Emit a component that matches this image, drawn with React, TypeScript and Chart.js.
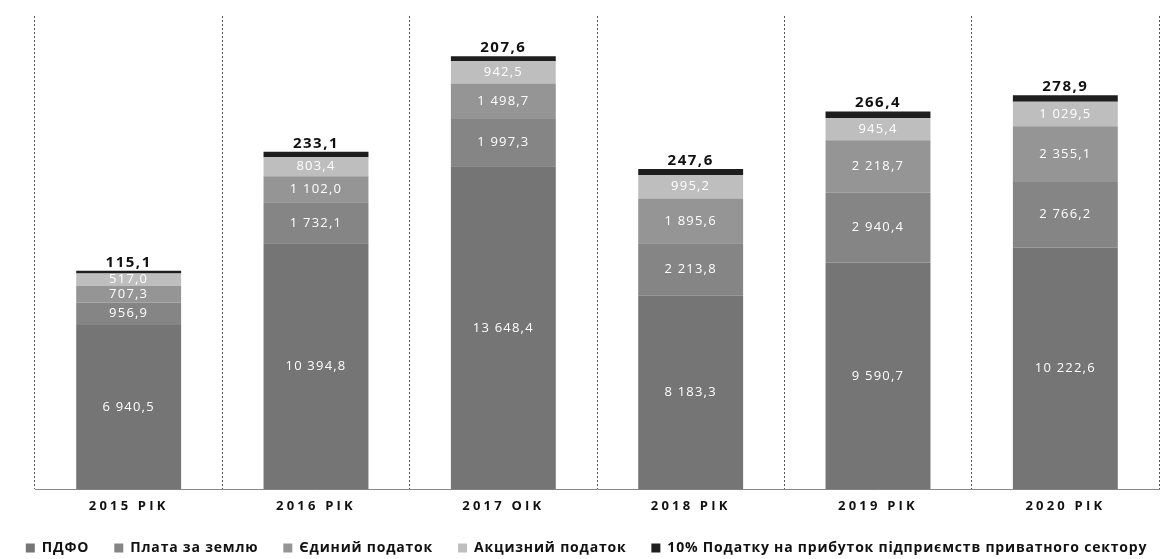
import React, { useEffect, useRef } from "react";
import { Chart, registerables } from "chart.js";

Chart.register(...registerables);

const categories = ["2015 PIK", "2016 PIK", "2017 OIK", "2018 PIK", "2019 PIK", "2020 PIK"];
const seriesNames = [
  "ПДФО",
  "Плата за землю",
  "Єдиний податок",
  "Акцизний податок",
  "10% Податку на прибуток підприємств приватного сектору",
];
const pdfo = [6940.5, 10394.8, 13648.4, 8183.3, 9590.7, 10222.6];
const plataZemlia = [956.9, 1732.1, 1997.3, 2213.8, 2940.4, 2766.2];
const yedynyi = [707.3, 1102.0, 1498.7, 1895.6, 2218.7, 2355.1];
const aktsyz = [517.0, 803.4, 942.5, 995.2, 945.4, 1029.5];
const podatok10 = [115.1, 233.1, 207.6, 247.6, 266.4, 278.9];

const colors = ["#757575", "#858585", "#959595", "#bebebe", "#1e1e1e"];

function fmt(v: number): string {
  const s = v.toFixed(1);
  const [i, d] = s.split(".");
  const g = i.replace(/\B(?=(\d{3})+(?!\d))/g, " ");
  return g + "," + d;
}

const labelPlugin = {
  id: "segLabels",
  afterDatasetsDraw(chart: any) {
    const ctx = chart.ctx;
    ctx.save();
    ctx.textAlign = "center";
    chart.data.datasets.forEach((ds: any, di: number) => {
      const meta = chart.getDatasetMeta(di);
      meta.data.forEach((el: any, i: number) => {
        const v = ds.data[i];
        if (di < 4) {
          ctx.fillStyle = "#ffffff";
          ctx.font = "13px 'Open Sans'";
          (ctx as any).letterSpacing = "1.2px";
          ctx.textBaseline = "middle";
          ctx.fillText(fmt(v), el.x, (el.y + el.base) / 2);
        } else {
          ctx.fillStyle = "#111111";
          ctx.font = "bold 15px 'Open Sans'";
          (ctx as any).letterSpacing = "1.5px";
          ctx.textBaseline = "bottom";
          ctx.fillText(fmt(v), el.x, el.y - 1);
        }
      });
    });
    ctx.restore();
    // x tick labels are drawn after this (z = 1) with wider spacing
    (ctx as any).letterSpacing = "3.2px";
  },
};

const spacingPlugin = {
  id: "spacing",
  beforeUpdate(chart: any) {
    (chart.ctx as any).letterSpacing = "0.8px";
  },
  beforeDraw(chart: any) {
    (chart.ctx as any).letterSpacing = "0.8px";
  },
};

export default function App() {
  const ref = useRef<HTMLCanvasElement | null>(null);
  useEffect(() => {
    document.body.style.margin = "0";
    const data = [pdfo, plataZemlia, yedynyi, aktsyz, podatok10];
    const chart = new Chart(ref.current as HTMLCanvasElement, {
      type: "bar",
      data: {
        labels: categories,
        datasets: data.map((d, i) => ({
          label: seriesNames[i],
          data: d,
          backgroundColor: colors[i],
          borderWidth: 0,
          barPercentage: 0.56,
          categoryPercentage: 1,
        })),
      },
      options: {
        animation: false,
        responsive: false,
        layout: { padding: { top: 16, left: 0, right: 0, bottom: -6 } },
        plugins: {
          legend: {
            position: "bottom",
            labels: {
              boxWidth: 9,
              boxHeight: 9,
              padding: 25,
              color: "#111",
              font: { family: "'Open Sans'", size: 14, weight: "bold" },
            },
          },
          tooltip: { enabled: false },
        },
        scales: {
          x: {
            stacked: true,
            offset: true,
            grid: {
              offset: true,
              drawTicks: false,
              color: "#555",
              lineWidth: 1,
            },
            border: { display: true, color: "#888", dash: [2, 2] },
            ticks: {
              padding: 9,
              z: 1,
              color: "#111",
              font: { family: "'Open Sans'", size: 13, weight: "bold" },
            },
            afterFit(scale: any) {
              scale.height = scale.height - 7;
            },
          },
          y: {
            stacked: true,
            min: 0,
            max: 20000,
            position: "left",
            grid: { display: false },
            border: { display: false },
            ticks: { display: false },
            afterFit(scale: any) {
              scale.width = 35;
            },
          },
          y2: {
            position: "right",
            min: 0,
            max: 20000,
            grid: { display: false },
            border: { display: false },
            ticks: { display: false },
            afterFit(scale: any) {
              scale.width = 14;
            },
          },
        },
      },
      plugins: [spacingPlugin, labelPlugin],
    } as any);
    return () => chart.destroy();
  }, []);
  return (
    <div style={{ width: 1173, height: 559 }}>
      <canvas ref={ref} width={1173} height={559} style={{ display: "block" }} />
    </div>
  );
}
